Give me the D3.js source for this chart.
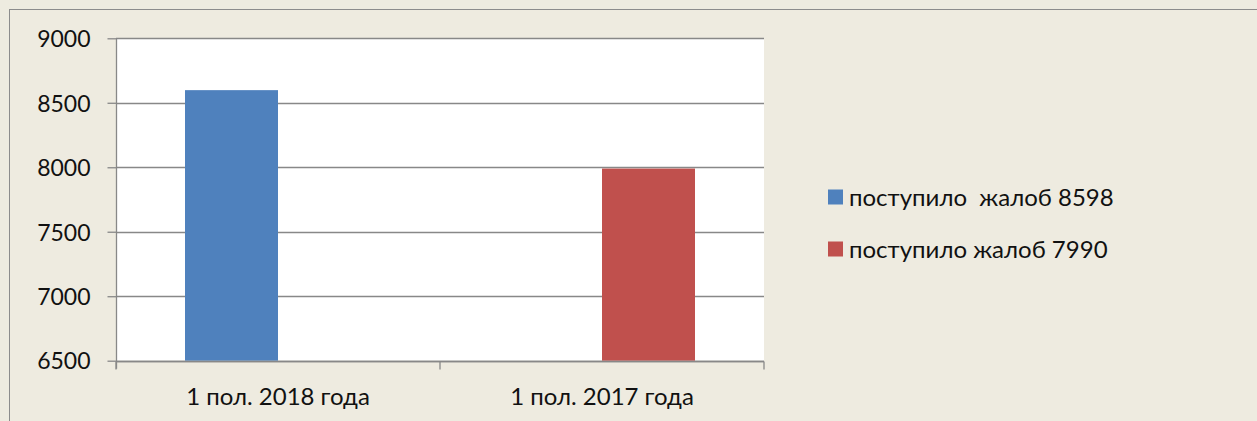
<!DOCTYPE html>
<html>
<head>
<meta charset="utf-8">
<script src="https://cdn.jsdelivr.net/npm/d3@7"></script>
<style>
  html, body { margin: 0; padding: 0; background: #EEEBE0; overflow: hidden; }
  svg text { font-family: Lato, "Open Sans", sans-serif; fill: #111; white-space: pre; }
</style>
</head>
<body>
<svg id="chart" width="1257" height="421"></svg>
<script>
  // data
  var categories = ['1 пол. 2018 года', '1 пол. 2017 года'];
  var seriesNames = ['поступило  жалоб 8598', 'поступило жалоб 7990'];
  var seriesColors = ['#4F81BD', '#C0504D'];
  // one value per category, null where the series has no bar
  var series1 = [8598, null];
  var series2 = [null, 7990];
  var yTicks = [6500, 7000, 7500, 8000, 8500, 9000];

  var svg = d3.select('#chart');

  // outer chart frame (only top and left edges visible)
  svg.append('rect')
    .attr('x', 9.5)
    .attr('y', 9.5)
    .attr('width', 1300)
    .attr('height', 500)
    .attr('fill', '#EEEBE0')
    .attr('stroke', '#8C8C8C')
    .attr('stroke-width', 1);

  var plot = { left: 116, right: 764, top: 38.3, bottom: 360.7 };

  var x0 = d3.scaleBand()
    .domain(categories)
    .range([plot.left, plot.right])
    .padding(0);

  var x1 = d3.scaleBand()
    .domain([0, 1])
    .range([0, x0.bandwidth()])
    .paddingInner(0)
    .paddingOuter(0.742);

  var y = d3.scaleLinear()
    .domain([6500, 9000])
    .range([plot.bottom, plot.top]);

  // plot area
  svg.append('rect')
    .attr('x', plot.left)
    .attr('y', plot.top)
    .attr('width', plot.right - plot.left)
    .attr('height', plot.bottom - plot.top)
    .attr('fill', '#ffffff');

  // gridlines
  svg.append('g')
    .selectAll('line')
    .data(yTicks)
    .enter()
    .append('line')
    .attr('x1', plot.left)
    .attr('x2', plot.right)
    .attr('y1', function(d) { return Math.round(y(d)) + 0.5; })
    .attr('y2', function(d) { return Math.round(y(d)) + 0.5; })
    .attr('stroke', '#888888')
    .attr('stroke-width', 1.3);

  // bars
  var rows = categories.map(function(c, i) {
    return [series1[i], series2[i]];
  });

  svg.append('g')
    .selectAll('g')
    .data(rows)
    .enter()
    .append('g')
    .attr('transform', function(d, i) { return 'translate(' + x0(categories[i]) + ',0)'; })
    .selectAll('rect')
    .data(function(d) {
      return d.map(function(v, s) { return { s: s, v: v }; })
        .filter(function(o) { return o.v != null; });
    })
    .enter()
    .append('rect')
    .attr('x', function(d) { return x1(d.s); })
    .attr('width', x1.bandwidth())
    .attr('y', function(d) { return y(d.v); })
    .attr('height', function(d) { return plot.bottom - y(d.v); })
    .attr('fill', function(d) { return seriesColors[d.s]; });

  // y axis
  var yAxis = svg.append('g')
    .attr('transform', 'translate(' + (plot.left + 0.5) + ',0)')
    .call(d3.axisLeft(y).tickValues(yTicks).tickSize(9).tickPadding(17).tickFormat(d3.format('d')));
  yAxis.select('.domain').attr('stroke', '#888888').attr('stroke-width', 1.3)
    .attr('d', 'M0,' + (plot.top) + 'V' + (plot.bottom + 8));
  yAxis.selectAll('.tick line').attr('stroke', '#888888').attr('stroke-width', 1.3);
  yAxis.selectAll('.tick text')
    .attr('fill', '#111')
    .style('font-size', '23px')
    .attr('dy', '0.36em');

  // x axis
  var xAxis = svg.append('g')
    .attr('transform', 'translate(0,' + (Math.round(plot.bottom) + 0.5) + ')');
  xAxis.append('line')
    .attr('x1', plot.left)
    .attr('x2', plot.right)
    .attr('stroke', '#888888')
    .attr('stroke-width', 1.3);
  xAxis.selectAll('line.tk')
    .data(categories.concat(['end']))
    .enter()
    .append('line')
    .attr('class', 'tk')
    .attr('x1', function(d, i) { return plot.left + i * x0.step(); })
    .attr('x2', function(d, i) { return plot.left + i * x0.step(); })
    .attr('y1', 0)
    .attr('y2', 8)
    .attr('stroke', '#888888')
    .attr('stroke-width', 1.3);
  xAxis.selectAll('text')
    .data(categories)
    .enter()
    .append('text')
    .attr('x', function(d) { return x0(d) + x0.bandwidth() / 2; })
    .attr('y', 43)
    .attr('text-anchor', 'middle')
    .style('font-size', '24px')
    .text(function(d) { return d; });

  // legend
  var legend = svg.append('g')
    .selectAll('g')
    .data(seriesNames)
    .enter()
    .append('g')
    .attr('transform', function(d, i) { return 'translate(828,' + (189.5 + i * 52) + ')'; });
  legend.append('rect')
    .attr('width', 15)
    .attr('height', 15)
    .attr('fill', function(d, i) { return seriesColors[i]; });
  legend.append('text')
    .attr('x', 21)
    .attr('y', 16)
    .style('font-size', '24px')
    .text(function(d) { return d; });
</script>
</body>
</html>
